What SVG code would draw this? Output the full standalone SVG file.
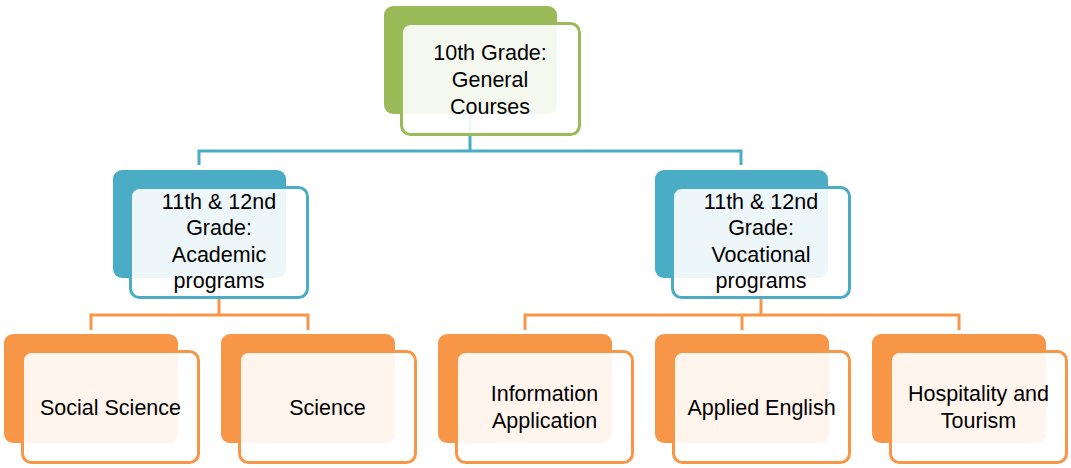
<svg xmlns="http://www.w3.org/2000/svg" width="1071" height="468" viewBox="0 0 1071 468">
<style>
.bg{fill:#ffffff}
.backG{fill:#9BBB59}
.backB{fill:#4BACC6}
.backO{fill:#F79646}
.front{fill:#ffffff;fill-opacity:0.9;stroke-width:3}
.fG{stroke:#9BBB59}
.fB{stroke:#4BACC6}
.fO{stroke:#F79646}
.conB{stroke:#4BACC6;stroke-width:3;fill:none}
.conO{stroke:#F79646;stroke-width:3;fill:none}
text{font-family:"Liberation Sans",Arial,sans-serif;font-size:21.5px;fill:#000;text-anchor:middle}
</style>
<rect class="bg" x="0" y="0" width="1071" height="468"/>
<g id="connectors">
<path class="conB" d="M470 114V151M199 151H741M199 149.5V165M741 149.5V165"/>
<path class="conO" d="M219 278V315M91 315H308M91 313.5V330M308 313.5V330"/>
<path class="conO" d="M761 278V315M525 315H959M525 313.5V330M742 313.5V330M959 313.5V330"/>
</g>
<g id="n-grade10">
<rect class="backG" x="384" y="6" width="173" height="108" rx="9"/>
<rect class="front fG" x="401.5" y="23.5" width="178" height="111" rx="9"/>
<text x="490" y="59.5">10th Grade:</text>
<text x="490" y="86.5">General</text>
<text x="490" y="113.5">Courses</text>
</g>
<g id="n-academic">
<rect class="backB" x="113" y="170" width="173" height="108" rx="9"/>
<rect class="front fB" x="130.5" y="187.5" width="177" height="110" rx="9"/>
<text x="219" y="208.5">11th &amp; 12nd</text>
<text x="219" y="235">Grade:</text>
<text x="219" y="261.5">Academic</text>
<text x="219" y="288">programs</text>
</g>
<g id="n-vocational">
<rect class="backB" x="655" y="170" width="173" height="108" rx="9"/>
<rect class="front fB" x="672.5" y="187.5" width="177" height="110" rx="9"/>
<text x="761" y="208.5">11th &amp; 12nd</text>
<text x="761" y="235">Grade:</text>
<text x="761" y="261.5">Vocational</text>
<text x="761" y="288">programs</text>
</g>
<g id="n-social">
<rect class="backO" x="4" y="334" width="174" height="109" rx="9"/>
<rect class="front fO" x="22.5" y="351.5" width="176" height="111" rx="9"/>
<text x="110.5" y="415">Social Science</text>
</g>
<g id="n-science">
<rect class="backO" x="221" y="334" width="174" height="109" rx="9"/>
<rect class="front fO" x="239.5" y="351.5" width="176" height="111" rx="9"/>
<text x="327.5" y="415">Science</text>
</g>
<g id="n-info">
<rect class="backO" x="438" y="334" width="174" height="109" rx="9"/>
<rect class="front fO" x="456.5" y="351.5" width="176" height="111" rx="9"/>
<text x="544.5" y="401">Information</text>
<text x="544.5" y="428">Application</text>
</g>
<g id="n-english">
<rect class="backO" x="655" y="334" width="174" height="109" rx="9"/>
<rect class="front fO" x="673.5" y="351.5" width="176" height="111" rx="9"/>
<text x="761.5" y="415">Applied English</text>
</g>
<g id="n-hospitality">
<rect class="backO" x="872" y="334" width="174" height="109" rx="9"/>
<rect class="front fO" x="890.5" y="351.5" width="176" height="111" rx="9"/>
<text x="978.5" y="401">Hospitality and</text>
<text x="978.5" y="428">Tourism</text>
</g>
</svg>
